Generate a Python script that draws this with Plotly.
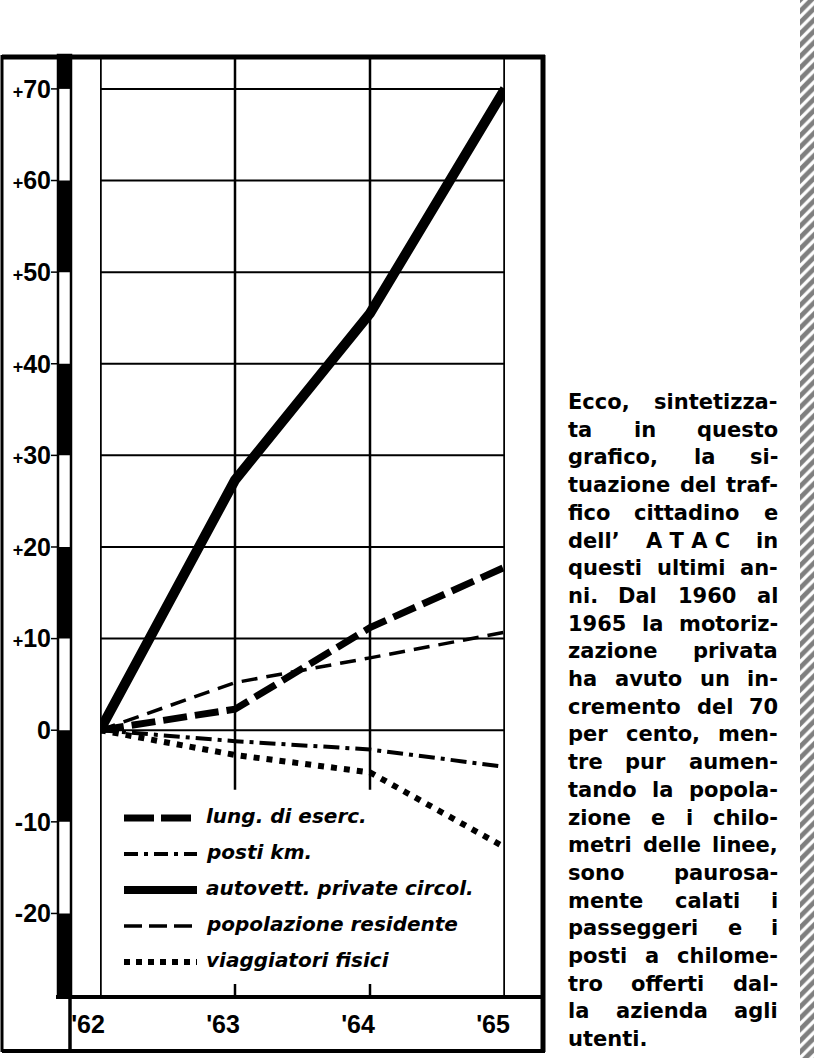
import plotly.graph_objects as go

W, H = 814, 1058

# ---------------- data ----------------
years = [1962, 1963, 1964, 1965]
year_labels = ["'62", "'63", "'64", "'65"]

lung_eserc = [0, 2.3, 11.2, 17.8]
posti_km = [0, -1.2, -2.1, -4.0]
autovett = [0, 27.3, 45.5, 70.0]
popolazione = [0, 5.2, 7.9, 10.7]
viaggiatori = [0, -2.7, -4.6, -12.8]

series_names = ["lung. di eserc.", "posti km.", "autovett. private circol.",
                "popolazione residente", "viaggiatori fisici"]
series_values = [lung_eserc, posti_km, autovett, popolazione, viaggiatori]

y_tick_vals = [-20, -10, 0, 10, 20, 30, 40, 50, 60, 70]
y_tick_text = ["-20", "-10", "0", "+10", "+20", "+30", "+40", "+50", "+60", "+70"]

para_lines = [
    "Ecco, sintetizza-",
    "ta in questo",
    "grafico, la si-",
    "tuazione del traf-",
    "fico cittadino e",
    "dell\u2019 A\u00a0T\u00a0A\u00a0C in",
    "questi ultimi an-",
    "ni. Dal 1960 al",
    "1965 la motoriz-",
    "zazione privata",
    "ha avuto un in-",
    "cremento del 70",
    "per cento, men-",
    "tre pur aumen-",
    "tando la popola-",
    "zione e i chilo-",
    "metri delle linee,",
    "sono paurosa-",
    "mente calati i",
    "passeggeri e i",
    "posti a chilome-",
    "tro offerti dal-",
    "la azienda agli",
    "utenti.",
]

# ---------------- styles ----------------
styles = [
    dict(width=7, dash="24px,8px", leg_dash="30px,7px"),
    dict(width=4, dash="16px,6px,4px,6px", leg_dash="14px,6px,4px,6px"),
    dict(width=10, dash="solid", leg_dash="solid"),
    dict(width=3.5, dash="16px,9px", leg_dash="18px,7px"),
    dict(width=6, dash="6px,7px", leg_dash="6px,6px"),
]

Y_MIN, Y_MAX = -28.9, 73.7
PLOT_L, PLOT_R, PLOT_T, PLOT_B = 100, 505, 55, 995


def X(px):
    return px / W


def Y(py):
    return 1 - py / H


fig = go.Figure()

for name, vals, st in zip(series_names, series_values, styles):
    fig.add_trace(go.Scatter(
        x=years, y=vals, mode="lines", name=name,
        line=dict(color="black", width=st["width"], dash=st["dash"]),
        cliponaxis=False, hoverinfo="skip"))

# hatched strip on the right edge
fig.add_trace(go.Bar(
    x=[0], y=[1], width=[1], xaxis="x2", yaxis="y2", hoverinfo="skip",
    marker=dict(color="white", line=dict(width=0),
                pattern=dict(shape="/", fgcolor="black", bgcolor="white",
                             size=8, solidity=0.6))))

shapes = []
# horizontal grid (0 .. 70)
for v in y_tick_vals:
    if v >= 0:
        shapes.append(dict(type="line", xref="x", yref="y", x0=years[0], x1=years[-1],
                           y0=v, y1=v, line=dict(color="black", width=2), layer="below"))
# vertical grid
for yr in years[1:-1]:
    shapes.append(dict(type="line", xref="x", yref="y", x0=yr, x1=yr, y0=-6.5, y1=Y_MAX,
                       line=dict(color="black", width=2.5), layer="below"))
    shapes.append(dict(type="line", xref="x", yref="y", x0=yr, x1=yr, y0=Y_MIN, y1=Y_MIN + 1.2,
                       line=dict(color="black", width=2.5), layer="below"))
for yr in (years[0], years[-1]):
    shapes.append(dict(type="line", xref="x", yref="y", x0=yr, x1=yr, y0=Y_MIN, y1=Y_MAX,
                       line=dict(color="black", width=3.5), layer="below"))

# ruler bar
shapes.append(dict(type="rect", xref="paper", yref="paper", x0=X(58), x1=X(71),
                   y0=Y(PLOT_B), y1=Y(PLOT_T), line=dict(color="black", width=2.5),
                   fillcolor="white"))
bounds = [Y_MAX] + sorted(y_tick_vals, reverse=True) + [Y_MIN]
for i in range(len(bounds) - 1):
    if i % 2 == 0:
        shapes.append(dict(type="rect", xref="paper", yref="y", x0=X(58), x1=X(71),
                           y0=bounds[i + 1], y1=bounds[i], line=dict(width=0),
                           fillcolor="black"))
for v in y_tick_vals:
    shapes.append(dict(type="line", xref="paper", yref="y", x0=X(51), x1=X(58), y0=v, y1=v,
                       line=dict(color="black", width=1.5)))

# frame
frame = [
    (2, 57, 545, 57, 5),       # top
    (2, 55, 2, 1052, 3),       # left
    (543, 55, 543, 1052, 5),   # right
    (2, 1051, 545, 1051, 4),   # bottom
    (56, 997, 543, 997, 4),    # axis band top
    (70, 997, 70, 1051, 3.5),  # label row left
]
for x0, y0, x1, y1, w in frame:
    shapes.append(dict(type="line", xref="paper", yref="paper", x0=X(x0), y0=Y(y0),
                       x1=X(x1), y1=Y(y1), line=dict(color="black", width=w)))

annotations = []

# custom legend
LEG_Y0, LEG_DY = 818, 36
for i, (name, st) in enumerate(zip(series_names, styles)):
    yy = LEG_Y0 + i * LEG_DY
    shapes.append(dict(type="line", xref="paper", yref="paper", x0=X(124), x1=X(197),
                       y0=Y(yy), y1=Y(yy),
                       line=dict(color="black", width=min(st["width"], 8), dash=st["leg_dash"])))
    annotations.append(dict(xref="paper", yref="paper", x=X(204), y=Y(yy - 2), text=name,
                            showarrow=False, xanchor="left", yanchor="middle",
                            font=dict(family="DejaVu Sans", size=20, style="italic",
                                      weight="bold", color="black")))

# paragraph (justified word by word)
CW = {" ": .348, "\u00a0": .348, "a": .675, "b": .716, "c": .590, "d": .716, "e": .678,
      "f": .435, "g": .716, "h": .712, "i": .343, "l": .343, "m": 1.042, "n": .712,
      "o": .687, "p": .716, "q": .716, "r": .493, "s": .595, "t": .478, "u": .712,
      "v": .652, "z": .579, ",": .38, ".": .38, "-": .416, "\u2019": .38, "A": .774,
      "C": .733, "D": .828, "E": .683, "T": .686}
FS = 21
for ch in "0123456789":
    CW[ch] = .696


def tw(s):
    return sum(CW.get(c, .65) for c in s) * FS


P_L, P_R, P_Y0, P_DY = 567, 779, 402, 27.7
pfont = dict(family="DejaVu Sans", size=FS, weight="bold", color="black")
for i, line in enumerate(para_lines):
    yy = P_Y0 + i * P_DY
    words = line.split(" ")
    if i == len(para_lines) - 1 or len(words) == 1:
        annotations.append(dict(xref="paper", yref="paper", x=X(P_L), y=Y(yy), text=line,
                                showarrow=False, xanchor="left", yanchor="middle", font=pfont,
                                borderpad=0))
        continue
    widths = [tw(w) for w in words]
    gap = (P_R - P_L - sum(widths)) / (len(words) - 1)
    cx = P_L
    for j, (wd_txt, wd) in enumerate(zip(words, widths)):
        if j == 0:
            xa, xp = "left", P_L
        elif j == len(words) - 1:
            xa, xp = "right", P_R
        else:
            xa, xp = "center", cx + wd / 2
        annotations.append(dict(xref="paper", yref="paper", x=X(xp), y=Y(yy), text=wd_txt,
                                showarrow=False, xanchor=xa, yanchor="middle", font=pfont,
                                borderpad=0))
        cx += wd + gap

y_text_html = [t.replace("+", "<span style='font-size:18px'>+</span>") for t in y_tick_text]

fig.update_layout(
    width=W, height=H, margin=dict(l=0, r=0, t=0, b=0, autoexpand=False),
    paper_bgcolor="white", plot_bgcolor="white", showlegend=False,
    xaxis=dict(domain=[X(PLOT_L), X(PLOT_R)], range=[years[0], years[-1]], automargin=False,
               tickvals=years, ticktext=year_labels, showgrid=False, zeroline=False,
               showline=False, ticks="", ticklabelstandoff=12, ticklabelshift=-12,
               tickfont=dict(family="Liberation Sans", size=25, weight="bold", color="black")),
    yaxis=dict(domain=[Y(PLOT_B), Y(PLOT_T)], range=[Y_MIN, Y_MAX], automargin=False,
               tickvals=y_tick_vals, ticktext=y_text_html, showgrid=False, zeroline=False,
               showline=False, ticks="", ticklabelstandoff=48,
               tickfont=dict(family="Liberation Sans", size=25, weight="bold", color="black")),
    xaxis2=dict(domain=[X(800), 1], range=[-0.5, 0.5], visible=False, anchor="y2",
                automargin=False),
    yaxis2=dict(domain=[0, 1], range=[0, 1], visible=False, anchor="x2", automargin=False),
    shapes=shapes, annotations=annotations, bargap=0,
)

fig.write_html("out.html", config={"displayModeBar": False},
               post_script="document.body.style.margin='0px';"
                           "document.body.style.overflow='hidden';")
